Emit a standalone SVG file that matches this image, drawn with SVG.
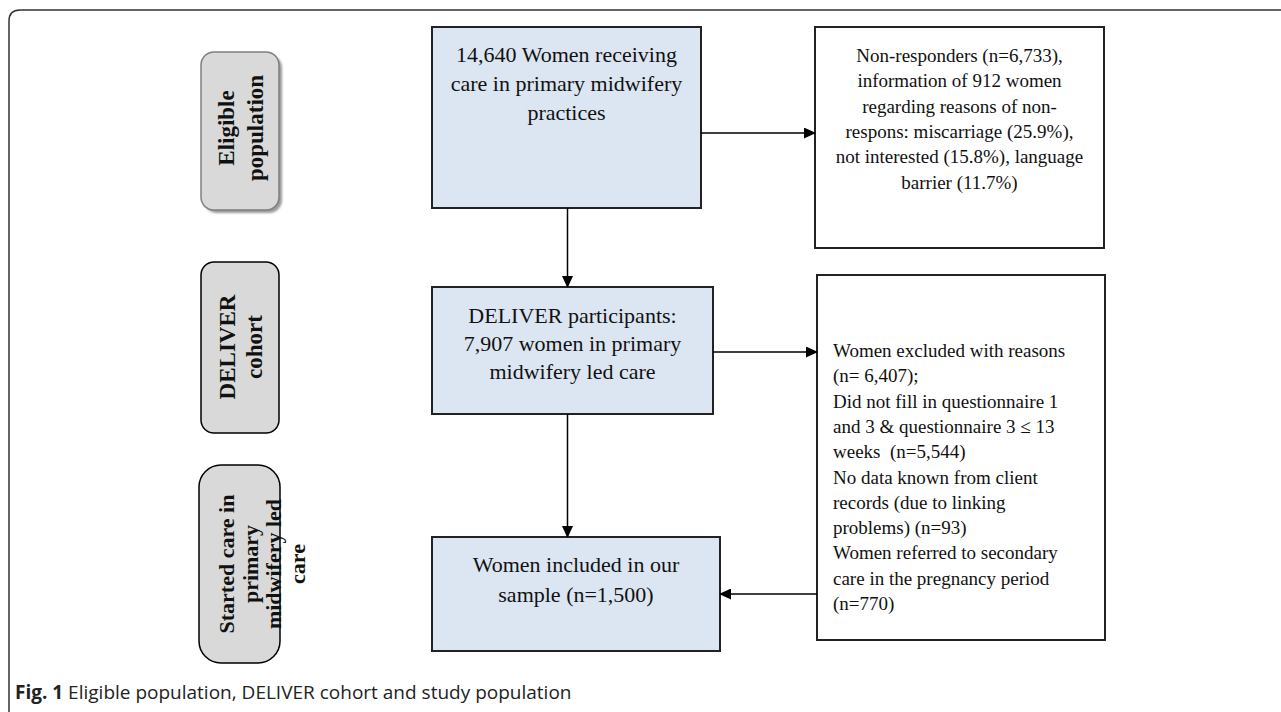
<svg xmlns="http://www.w3.org/2000/svg" width="1281" height="712" viewBox="0 0 1281 712">
<defs>
<style>
.side{fill:#d9d9d9;stroke:#000;stroke-width:1.5}
.main{fill:#dce6f2;stroke:#222;stroke-width:2}
.plain{fill:#fff;stroke:#222;stroke-width:2}
.lbl{font-family:"Liberation Serif",serif;font-weight:bold;font-size:23px;fill:#111;text-anchor:middle}
.lbl3{font-family:"Liberation Serif",serif;font-weight:bold;font-size:22px;fill:#111;text-anchor:middle}
.t22{font-family:"Liberation Serif",serif;font-size:22px;fill:#111;text-anchor:middle}
.t19{font-family:"Liberation Serif",serif;font-size:19px;fill:#111}
.conn{stroke:#000;stroke-width:1.5;fill:none}
</style>
<marker id="ah" markerWidth="12" markerHeight="11" refX="11" refY="5.5" orient="auto" markerUnits="userSpaceOnUse">
<path d="M0,0 L12,5.5 L0,11 Z" fill="#000"/>
</marker>
<filter id="sh" x="-20%" y="-20%" width="140%" height="140%">
<feGaussianBlur stdDeviation="1.2"/>
</filter>
</defs>
<rect width="1281" height="712" fill="#fff"/>
<path d="M9,712 V21 Q9,10 20,10 H1281" fill="none" stroke="#333" stroke-width="1.5"/>

<g id="side-eligible">
<rect x="204" y="55" width="78" height="158" rx="13" fill="#999" filter="url(#sh)"/>
<rect x="201" y="52" width="78" height="158" rx="13" fill="#d9d9d9" stroke="#7f7f7f" stroke-width="1.5"/>
<g transform="translate(240,128) rotate(-90)">
<text class="lbl" x="0" y="-6">Eligible</text>
<text class="lbl" x="0" y="23">population</text>
</g>
</g>

<g id="side-cohort">
<rect class="side" x="201" y="262" width="78" height="171" rx="13"/>
<g transform="translate(240,347) rotate(-90)">
<text class="lbl" x="0" y="-5">DELIVER</text>
<text class="lbl" x="0" y="22">cohort</text>
</g>
</g>

<g id="side-started">
<rect class="side" x="199" y="465" width="81" height="198" rx="22"/>
<g transform="translate(239,564) rotate(-90)">
<text class="lbl3" x="0" y="-5">Started care in</text>
<text class="lbl3" x="0" y="18.5">primary</text>
<text class="lbl3" x="0" y="42">midwifery led</text>
<text class="lbl3" x="0" y="65.5">care</text>
</g>
</g>

<g id="node-eligible">
<rect class="main" x="432" y="27" width="269" height="181"/>
<text class="t22" x="566.5" y="62">14,640 Women receiving</text>
<text class="t22" x="566.5" y="91">care in primary midwifery</text>
<text class="t22" x="566.5" y="120">practices</text>
</g>

<g id="node-nonresponders">
<rect class="plain" x="815" y="27" width="289" height="221"/>
<g class="t19">
<text x="959.5" y="62" text-anchor="middle">Non-responders (n=6,733),</text>
<text x="959.5" y="87.3" text-anchor="middle">information of 912 women</text>
<text x="959.5" y="112.6" text-anchor="middle">regarding reasons of non-</text>
<text x="959.5" y="137.9" text-anchor="middle">respons: miscarriage (25.9%),</text>
<text x="959.5" y="163.2" text-anchor="middle">not interested (15.8%), language</text>
<text x="959.5" y="188.5" text-anchor="middle">barrier (11.7%)</text>
</g>
</g>

<g id="node-participants">
<rect class="main" x="432" y="287" width="281" height="127"/>
<text class="t22" x="572.5" y="323">DELIVER participants:</text>
<text class="t22" x="572.5" y="351">7,907 women in primary</text>
<text class="t22" x="572.5" y="379">midwifery led care</text>
</g>

<g id="node-excluded">
<rect class="plain" x="817" y="275" width="288" height="365"/>
<g class="t19">
<text x="833" y="357">Women excluded with reasons</text>
<text x="833" y="382.3">(n= 6,407);</text>
<text x="833" y="407.6">Did not fill in questionnaire 1</text>
<text x="833" y="432.9">and 3 &amp; questionnaire 3 ≤ 13</text>
<text x="833" y="458.2" xml:space="preserve">weeks  (n=5,544)</text>
<text x="833" y="483.5">No data known from client</text>
<text x="833" y="508.8">records (due to linking</text>
<text x="833" y="534.1">problems) (n=93)</text>
<text x="833" y="559.4">Women referred to secondary</text>
<text x="833" y="584.7">care in the pregnancy period</text>
<text x="833" y="610">(n=770)</text>
</g>
</g>

<g id="node-included">
<rect class="main" x="432" y="537" width="288" height="114"/>
<text class="t22" x="576" y="572">Women included in our</text>
<text class="t22" x="576" y="602">sample (n=1,500)</text>
</g>

<g id="connectors">
<line class="conn" x1="701" y1="133" x2="815" y2="133" marker-end="url(#ah)"/>
<line class="conn" x1="567.5" y1="208" x2="567.5" y2="287" marker-end="url(#ah)"/>
<line class="conn" x1="713" y1="352" x2="817" y2="352" marker-end="url(#ah)"/>
<line class="conn" x1="567.5" y1="414" x2="567.5" y2="537" marker-end="url(#ah)"/>
<line class="conn" x1="817" y1="594" x2="720" y2="594" marker-end="url(#ah)"/>
</g>

<text x="15" y="699" font-family="'Open Sans',sans-serif" font-size="19" fill="#222"><tspan font-weight="bold">Fig. 1</tspan> Eligible population, DELIVER cohort and study population</text>
</svg>
